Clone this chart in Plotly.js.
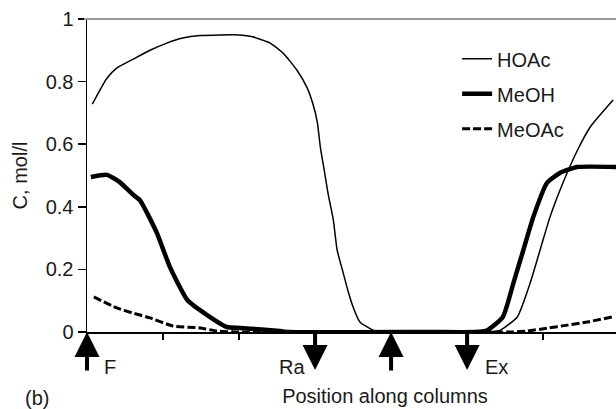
<!DOCTYPE html>
<html>
<head>
<meta charset="utf-8">
<script src="https://cdn.plot.ly/plotly-3.0.1.min.js"></script>
<style>
html, body { margin: 0; padding: 0; background: #fff; overflow: hidden; }
#wrap { width: 616px; height: 409px; overflow: hidden; position: relative; }
#chart { width: 683px; height: 409px; }
</style>
</head>
<body>
<div id="wrap"><div id="chart"></div></div>
<script>
// Position along columns (column units) and concentrations (mol/l)
const hoacX = [0.07, 0.17, 0.26, 0.39, 0.61, 0.83, 1.05, 1.26, 1.49, 1.75, 2.01, 2.18, 2.41, 2.58, 2.76, 2.89, 2.97, 3.03, 3.07, 3.12, 3.17, 3.24, 3.29, 3.36, 3.43, 3.50, 3.59, 3.82, 4.50, 5.20, 5.43, 5.66, 5.83, 5.96, 6.09, 6.26, 6.45, 6.62, 6.92];
const hoacY = [0.728, 0.773, 0.810, 0.843, 0.872, 0.900, 0.923, 0.939, 0.947, 0.949, 0.949, 0.943, 0.923, 0.891, 0.837, 0.783, 0.730, 0.670, 0.590, 0.518, 0.444, 0.358, 0.262, 0.198, 0.134, 0.080, 0.032, 0.0, 0.0, 0.0, 0.005, 0.048, 0.157, 0.262, 0.367, 0.476, 0.580, 0.655, 0.741];

const meohX = [0.05, 0.26, 0.43, 0.61, 0.70, 0.92, 1.09, 1.32, 1.58, 1.84, 2.01, 2.30, 2.54, 2.65, 4.50, 5.10, 5.26, 5.47, 5.61, 5.74, 5.87, 6.05, 6.22, 6.45, 6.96];
const meohY = [0.495, 0.502, 0.479, 0.438, 0.420, 0.316, 0.208, 0.102, 0.054, 0.016, 0.013, 0.008, 0.003, 0.0, 0.0, 0.0, 0.005, 0.048, 0.157, 0.262, 0.367, 0.476, 0.508, 0.527, 0.527];

const meoacX = [0.09, 0.39, 0.61, 0.83, 1.13, 1.49, 1.71, 2.00, 5.60, 5.79, 6.05, 6.32, 6.60, 6.91];
const meoacY = [0.112, 0.077, 0.060, 0.045, 0.019, 0.013, 0.003, 0.0, 0.0, 0.003, 0.012, 0.022, 0.033, 0.048];

// Inlet / outlet port markers along the axis
const portUpX = [0, 4];
const portDownX = [3, 5];
const portLabels = ["F", "Ra", "Ex"];
const portLabelX = [0.30, 2.70, 5.39];

const FONT = "Liberation Sans, Arial, sans-serif";
const FS = 20;
const TXT = "#1a1a1a";

const traces = [
  {x: hoacX, y: hoacY, name: "HOAc", mode: "lines", legendgroup: "a",
   line: {color: "#000", width: 1.5, shape: "spline", smoothing: 0.5}},
  {x: meohX, y: meohY, name: "MeOH", mode: "lines", legendgroup: "b",
   line: {color: "#000", width: 4.5, shape: "spline", smoothing: 0.5}},
  {x: meoacX, y: meoacY, name: "MeOAc", mode: "lines", legendgroup: "c",
   line: {color: "#000", width: 3, dash: "8px,3px", shape: "spline", smoothing: 0.4}}
];

const annotations = [];
portUpX.forEach(x => annotations.push({
  x: x, y: 0, xref: "x", yref: "y", text: "", showarrow: true,
  ax: 0, ay: 40, arrowhead: 2, arrowwidth: 4, arrowsize: 1.25, arrowcolor: "#000"
}));
portDownX.forEach(x => annotations.push({
  x: x, y: -38 / 313, xref: "x", yref: "paper", text: "", showarrow: true,
  ax: 0, ay: -38, arrowhead: 2, arrowwidth: 4, arrowsize: 1.25, arrowcolor: "#000"
}));
portLabels.forEach((t, i) => annotations.push({
  x: portLabelX[i], y: -35 / 313, xref: "x", yref: "paper", text: t, showarrow: false,
  xanchor: "center", yanchor: "middle", font: {family: FONT, size: FS, color: TXT}
}));
annotations.push({
  x: -50 / 596, y: -66 / 313, xref: "paper", yref: "paper", text: "(b)", showarrow: false,
  xanchor: "center", yanchor: "middle", font: {family: FONT, size: FS, color: TXT}
});

const layout = {
  width: 683, height: 409,
  margin: {l: 87, r: 0, t: 19, b: 77},
  paper_bgcolor: "#fff", plot_bgcolor: "#fff",
  font: {family: FONT, size: FS, color: TXT},
  showlegend: true,
  legend: {x: 0.621, y: 0.935, xanchor: "left", yanchor: "top",
           bgcolor: "rgba(0,0,0,0)", traceorder: "grouped", tracegroupgap: 6,
           font: {family: FONT, size: FS, color: TXT}},
  xaxis: {range: [0, 7.84], showgrid: false, zeroline: false, showline: true,
          linecolor: "#000", linewidth: 2, ticks: "outside", ticklen: 6, tickwidth: 1.5,
          tickcolor: "#000", dtick: 1, tick0: 0, showticklabels: false,
          title: {text: "Position along columns", standoff: 50, font: {family: FONT, size: FS, color: TXT}}},
  yaxis: {range: [0, 1], showgrid: false, zeroline: false, showline: true,
          linecolor: "#000", linewidth: 1.5, ticks: "outside", ticklen: 8, tickwidth: 1.5,
          tickcolor: "#000", dtick: 0.2, tick0: 0, automargin: true,
          tickfont: {family: FONT, size: FS, color: TXT},
          title: {text: "C, mol/l", standoff: 12, font: {family: FONT, size: FS, color: TXT}}},
  shapes: [{type: "line", xref: "paper", yref: "paper", x0: -0.005, x1: 1, y0: 1, y1: 1,
            line: {color: "#9a9a9a", width: 2}}],
  annotations: annotations
};

Plotly.newPlot("chart", traces, layout, {displayModeBar: false, staticPlot: true});
</script>
</body>
</html>
